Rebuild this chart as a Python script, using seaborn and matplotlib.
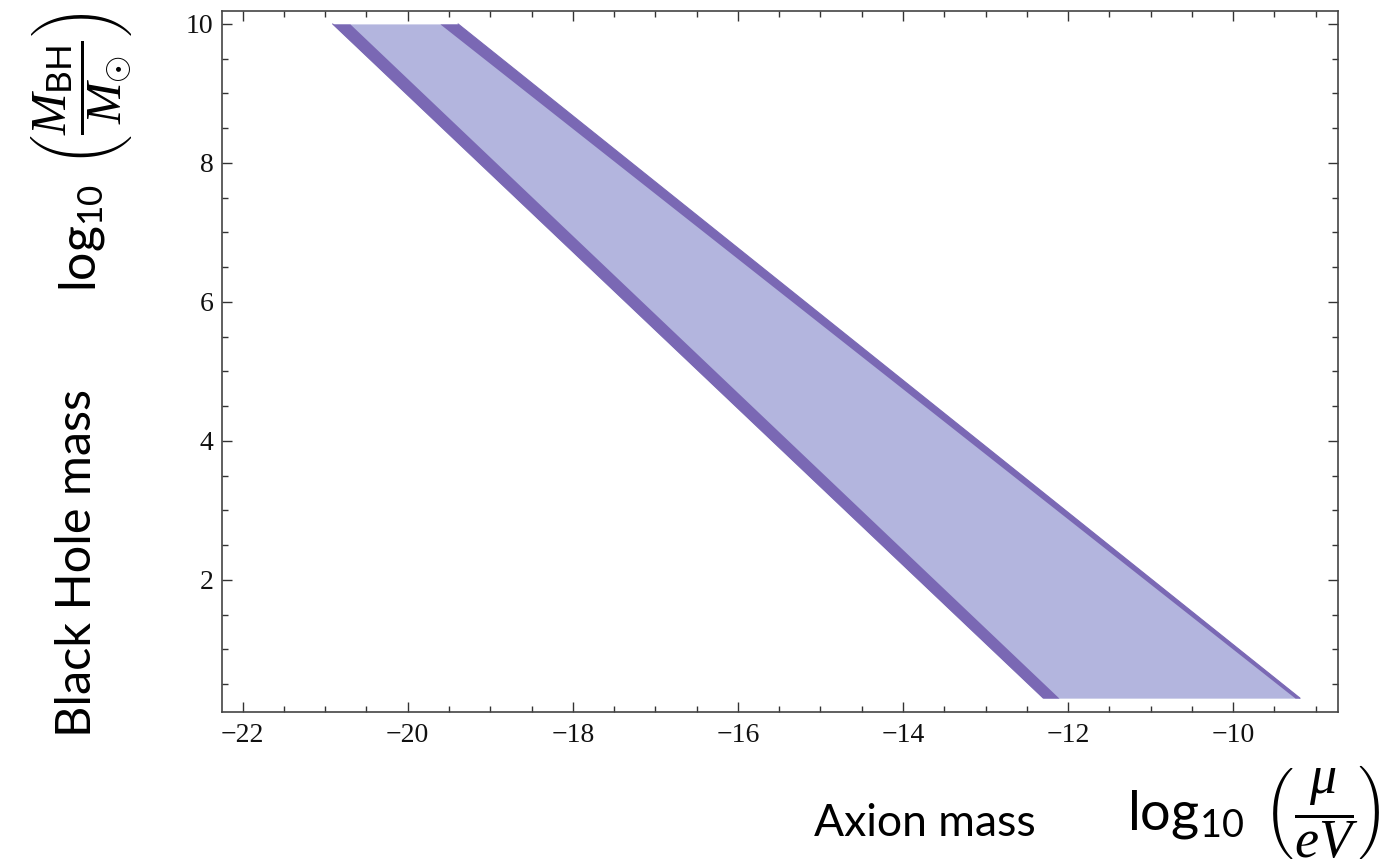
import numpy as np
import pandas as pd
import matplotlib
matplotlib.use("Agg")
import matplotlib.pyplot as plt
import seaborn as sns
from matplotlib.ticker import MultipleLocator

# ---- data ----
y_edges = [10.0, 0.3]                 # log10(M_BH / M_sun) at top and bottom of the band
outer_left_x = [-20.91, -12.30]       # left boundary of the allowed region
inner_left_x = [-20.70, -12.11]       # inner edge of the left dark strip
inner_right_x = [-19.61, -9.25]       # inner edge of the right dark strip
outer_right_x = [-19.39, -9.19]       # right boundary of the allowed region
x_ticks = [-22, -20, -18, -16, -14, -12, -10]
y_ticks = [2, 4, 6, 8, 10]

light = "#b3b5de"
dark = "#7a68b4"

sns.set_theme(style="ticks")
plt.rcParams["font.family"] = ["Liberation Serif", "DejaVu Serif"]
plt.rcParams["mathtext.fontset"] = "custom"
plt.rcParams["mathtext.rm"] = "Lato"
plt.rcParams["mathtext.it"] = "Liberation Serif:italic"
plt.rcParams["mathtext.fallback"] = "cm"

fig = plt.figure(figsize=(13.96, 8.65), dpi=100)
ax = fig.add_axes([222 / 1396, 1 - 711.7 / 865, (1338 - 222) / 1396, (711.7 - 10.7) / 865])

df = pd.DataFrame({"y": y_edges, "ol": outer_left_x, "il": inner_left_x,
                   "ir": inner_right_x, "or": outer_right_x})

ax.fill_betweenx(df["y"], df["ol"], df["or"], color=light, lw=0)
ax.fill_betweenx(df["y"], df["ol"], df["il"], color=dark, lw=0)
ax.fill_betweenx(df["y"], df["ir"], df["or"], color=dark, lw=0)
sns.lineplot(x=df["ol"], y=df["y"], ax=ax, color=dark, lw=0.8, sort=False, estimator=None)
sns.lineplot(x=df["or"], y=df["y"], ax=ax, color=dark, lw=0.8, sort=False, estimator=None)

ax.set_xlim(-22.25, -8.73)
ax.set_ylim(0.105, 10.19)
ax.set_xticks(x_ticks)
ax.set_yticks(y_ticks)
ax.set_xticklabels([f"\u2212{abs(v)}" for v in x_ticks])
ax.set_yticklabels([str(v) for v in y_ticks])
ax.xaxis.set_minor_locator(MultipleLocator(0.5))
ax.yaxis.set_minor_locator(MultipleLocator(0.5))
ax.tick_params(which="both", direction="in", top=True, right=True, color="#333333", width=1.0)
ax.tick_params(which="major", length=7, labelsize=20, pad=8, labelcolor="#111111")
ax.tick_params(which="minor", length=4)
ax.tick_params(axis="y", which="major", pad=6)
for s in ax.spines.values():
    s.set_color("#444444")
    s.set_linewidth(1.2)
ax.set_xlabel("")
ax.set_ylabel("")
ax.grid(False)

sans = ["Lato", "DejaVu Sans"]
fig.text(77 / 1396, 1 - 563 / 865, "Black Hole mass", rotation=90, ha="center", va="center",
         fontsize=35, family=sans, color="black")
fig.text(82 / 1396, 1 - 152 / 865,
         r"$\log_{10}\ \left(\dfrac{M_{\rm BH}}{M_{\odot}}\right)$",
         rotation=90, ha="center", va="center", fontsize=36, color="black")
fig.text(925 / 1396, 1 - 823 / 865, "Axion mass", ha="center", va="center",
         fontsize=32, family=sans, color="black")
fig.text(1254 / 1396, 1 - 812 / 865,
         r"$\log_{10}\ \left(\dfrac{\mu}{eV}\right)$",
         ha="center", va="center", fontsize=39, color="black")

fig.savefig("out.png", dpi=100, facecolor="white")
